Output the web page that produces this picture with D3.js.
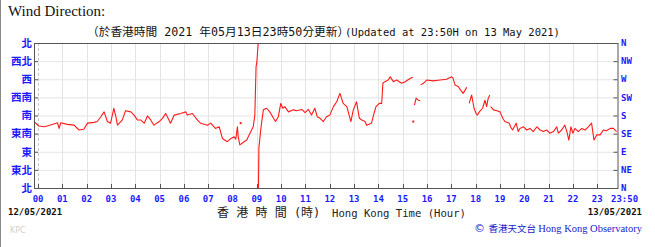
<!DOCTYPE html>
<html>
<head>
<meta charset="utf-8">
<script src="https://cdn.jsdelivr.net/npm/d3@7"></script>
<style>
  body { margin: 0; background: #fff; }
  svg { display: block; }
</style>
</head>
<body>
<svg id="chart"></svg>
<script>
const width = 655;
const height = 247;

// minutes after 00:00 on 13/05/2021 (null = gap in the record)
const times = [-10, 2, 15, 27, 39, 48, 52, 56, 72, 89, 101, 113, 122, 138, 146, 155, 163, 171, 179, 187,
  192, 196, 208, 216, 229, 237, 245, 253, 262, 270, 278, 286, 299, 307, 315, 327, 336, 352, 365, 368,
  381, 393, 401, 418, 426, 438, 447, 455, 467, 476, 484, 488, 492, 494, 498, 506, 515, 523, 531, 535,
  538, 540, 543, 544, 545, 550, 556, 564, 572, 581, 586, 593, 599, 604, 609, 618, 630, 638, 651, 659,
  667, 675, 683, 689, 696, 704, 712, 720, 729, 737, 745, 753, 762, 772, 778, 786, 793, 799, 807, 811,
  823, 829, 834, 842, 848, 851, 856, 864, 869, 877, 885, 897, 906, 918, 925, 926,
  929, 933, 938, 943, 943.5,
  944, 951, 959, 975, 992, 1008, 1021, 1024, 1029, 1037, 1043, 1049, 1054, 1058, 1061,
  1064, 1070, 1076, 1081, 1084, 1089, 1097, 1103, 1107, 1111, 1115, 1116,
  1117, 1124, 1133, 1140, 1147, 1152, 1163, 1166, 1171, 1180, 1185, 1189, 1198, 1206, 1214, 1222,
  1231, 1239, 1247, 1255, 1263, 1272, 1280, 1284, 1292, 1300, 1305, 1310, 1315, 1320, 1325, 1333,
  1342, 1350, 1358, 1366, 1372, 1379, 1387, 1395, 1403, 1412, 1420, 1428];

// wind direction in degrees
const dirs = [165, 154, 152, 155, 159, 162, 148, 162, 158, 156, 144, 146, 161, 163, 165, 177, 189, 165, 161, 198,
  177, 156, 169, 192, 189, 181, 169, 169, 161, 179, 169, 156, 165, 173, 185, 161, 181, 185, 189, 181,
  185, 169, 161, 156, 161, 148, 152, 123, 115, 123, 127, 121, 152, 127, 107, 113, 119, 136, 152, 181,
  301, 313, 355, 5, 99, 149, 194, 198, 189, 173, 165, 177, 210, 198, 202, 189, 194, 192, 195, 187,
  195, 181, 198, 177, 173, 165, 177, 181, 202, 214, 235, 210, 202, 165, 194, 214, 173, 169, 165, 156,
  161, 185, 202, 210, 210, 260, 264, 268, 276, 264, 268, 260, 264, 272, 275, null,
  206, 223, 218, 217, null,
  256, 260, 268, 266, 268, 270, 276, 273, 256, 252, 243, 235, 243, 250, null,
  210, 231, 198, 185, 181, 189, 198, 218, 202, 223, 231, null,
  202, 194, 192, 189, 173, 165, 161, 152, 144, 161, 140, 148, 152, 144, 148, 140,
  152, 144, 140, 144, 136, 140, 152, 136, 144, 156, 140, 119, 152, 136, 148, 140,
  148, 144, 152, 161, 119, 132, 132, 144, 142, 148, 148, 140];

// single isolated readings
const spotTimes = [500, 926];
const spotDirs = [161, 165];

const hours = d3.range(0, 24);
const dirLabelsZh = ["北", "東北", "東", "東南", "南", "西南", "西", "西北", "北"];
const dirLabelsEn = ["N", "NE", "E", "SE", "S", "SW", "W", "NW", "N"];

const svg = d3.select("#chart")
    .attr("width", width)
    .attr("height", height);

const x = d3.scaleLinear().domain([-10, 1430]).range([34, 617.5]);
const y = d3.scaleLinear().domain([0, 360]).range([188, 43]);

const blue = "#1a1aff";
const monoCjk = "DejaVu Sans Mono, Noto Sans CJK TC, monospace";

// frame line at the left edge of the image
svg.append("line")
    .attr("x1", 0.5).attr("x2", 0.5).attr("y1", 0).attr("y2", height)
    .attr("stroke", "#888");

svg.append("text")
    .attr("x", 8).attr("y", 16)
    .attr("font-family", "Liberation Serif, serif")
    .attr("font-size", 15)
    .attr("fill", "#111")
    .text("Wind Direction:");

const subtitle = svg.append("text")
    .attr("y", 36)
    .attr("fill", "#111");
subtitle.append("tspan")
    .attr("x", 87)
    .attr("font-family", monoCjk)
    .attr("font-size", 11.7)
    .text("（於香港時間 2021 年05月13日23時50分更新）");
subtitle.append("tspan")
    .attr("x", 345)
    .attr("font-family", "DejaVu Sans Mono, monospace")
    .attr("font-size", 10.5)
    .text("(Updated at 23:50H on 13 May 2021)");

// grid
const grid = svg.append("g");
grid.selectAll(".hg")
    .data(d3.range(45, 360, 45))
  .enter().append("line")
    .attr("x1", x(-10)).attr("x2", x(1430))
    .attr("y1", d => y(d) + 0.5).attr("y2", d => y(d) + 0.5)
    .attr("stroke", "#e4e4e4");

grid.selectAll(".vg")
    .data(hours)
  .enter().append("line")
    .attr("x1", d => Math.round(x(d * 60)) + 0.5).attr("x2", d => Math.round(x(d * 60)) + 0.5)
    .attr("y1", y(360)).attr("y2", y(0))
    .attr("stroke", d => d === 0 ? "#c8c8c8" : "#e4e4e4")
    .attr("stroke-dasharray", d => d === 0 ? "3,2" : null);

// ticks
const ticks = svg.append("g").attr("stroke", "#555");
ticks.selectAll(".lt")
    .data(d3.range(0, 361, 45))
  .enter().append("line")
    .attr("x1", x(-10)).attr("x2", x(-10) + 4)
    .attr("y1", d => y(d) + 0.5).attr("y2", d => y(d) + 0.5);
ticks.selectAll(".rt")
    .data(d3.range(0, 361, 45))
  .enter().append("line")
    .attr("x1", x(1430) - 4).attr("x2", x(1430))
    .attr("y1", d => y(d) + 0.5).attr("y2", d => y(d) + 0.5);
ticks.selectAll(".bt")
    .data(hours)
  .enter().append("line")
    .attr("x1", d => Math.round(x(d * 60)) + 0.5).attr("x2", d => Math.round(x(d * 60)) + 0.5)
    .attr("y1", y(0)).attr("y2", y(0) - 4);

// split the record into drawable pieces, breaking at gaps and at the N wrap
const segments = [];
let seg = [];
times.forEach((t, i) => {
    const d = dirs[i];
    if (d === null) {
        if (seg.length) segments.push(seg);
        seg = [];
        return;
    }
    if (seg.length) {
        const [t0, d0] = seg[seg.length - 1];
        if (Math.abs(d - d0) > 180) {
            const up = d < d0;
            const d1 = up ? d + 360 : d - 360;
            const edge = up ? 360 : 0;
            const tc = t0 + (edge - d0) / (d1 - d0) * (t - t0);
            seg.push([tc, edge]);
            segments.push(seg);
            seg = [[tc, up ? 0 : 360]];
        }
    }
    seg.push([t, d]);
});
if (seg.length) segments.push(seg);

const line = d3.line()
    .x(d => x(d[0]))
    .y(d => y(d[1]));

svg.append("g")
    .selectAll("path")
    .data(segments)
  .enter().append("path")
    .attr("d", line)
    .attr("fill", "none")
    .attr("stroke", "#ff1a1a")
    .attr("stroke-width", 1.1)
    .attr("stroke-linejoin", "round");

svg.append("g")
    .selectAll("rect")
    .data(spotTimes)
  .enter().append("rect")
    .attr("x", d => x(d) - 1)
    .attr("y", (d, i) => y(spotDirs[i]) - 1)
    .attr("width", 2).attr("height", 2)
    .attr("fill", "#ff1a1a");

// frame
svg.append("rect")
    .attr("x", x(-10) + 0.5).attr("y", y(360) + 0.5)
    .attr("width", x(1430) - x(-10)).attr("height", y(0) - y(360))
    .attr("fill", "none")
    .attr("stroke", "#555");

// direction labels
svg.append("g")
    .selectAll("text")
    .data(dirLabelsZh)
  .enter().append("text")
    .attr("x", 32)
    .attr("y", (d, i) => y(i * 45))
    .attr("dy", "0.36em")
    .attr("text-anchor", "end")
    .attr("font-family", "Noto Sans CJK TC, sans-serif")
    .attr("font-size", 10.5)
    .attr("font-weight", "bold")
    .attr("fill", blue)
    .text(d => d);

svg.append("g")
    .selectAll("text")
    .data(dirLabelsEn)
  .enter().append("text")
    .attr("x", 621)
    .attr("y", (d, i) => y(i * 45))
    .attr("dy", "0.36em")
    .attr("font-family", "DejaVu Sans Mono, monospace")
    .attr("font-size", 9)
    .attr("font-weight", "bold")
    .attr("fill", blue)
    .text(d => d);

// hour labels
svg.append("g")
    .selectAll("text")
    .data(hours)
  .enter().append("text")
    .attr("x", d => x(d * 60))
    .attr("y", 202)
    .attr("text-anchor", "middle")
    .attr("font-family", "DejaVu Sans Mono, monospace")
    .attr("font-size", 9)
    .attr("font-weight", "bold")
    .attr("fill", blue)
    .text(d => d3.format("02")(d));

svg.append("text")
    .attr("x", 611).attr("y", 202)
    .attr("font-family", "DejaVu Sans Mono, monospace")
    .attr("font-size", 9)
    .attr("font-weight", "bold")
    .attr("fill", blue)
    .text("23:50");

svg.append("text")
    .attr("x", 8).attr("y", 215)
    .attr("font-family", "DejaVu Sans Mono, monospace")
    .attr("font-size", 9)
    .attr("font-weight", "bold")
    .attr("fill", "#111")
    .text("12/05/2021");

svg.append("text")
    .attr("x", 642).attr("y", 215)
    .attr("text-anchor", "end")
    .attr("font-family", "DejaVu Sans Mono, monospace")
    .attr("font-size", 9)
    .attr("font-weight", "bold")
    .attr("fill", "#111")
    .text("13/05/2021");

const xTitle = svg.append("text")
    .attr("x", 217).attr("y", 217)
    .attr("fill", "#222");
xTitle.append("tspan")
    .attr("font-family", monoCjk)
    .attr("font-size", 12)
    .text("香 港 時 間 (時)");
xTitle.append("tspan")
    .attr("x", 332)
    .attr("font-family", "DejaVu Sans Mono, monospace")
    .attr("font-size", 10.6)
    .text("Hong Kong Time (Hour)");

svg.append("text")
    .attr("x", 10).attr("y", 233)
    .attr("font-family", "DejaVu Sans, sans-serif")
    .attr("font-size", 8)
    .attr("fill", "#d0d0d0")
    .text("KPC");

const credit = svg.append("text")
    .attr("x", 642).attr("y", 232)
    .attr("text-anchor", "end")
    .attr("fill", "#2222cc");
credit.append("tspan")
    .attr("font-family", "DejaVu Sans, sans-serif")
    .attr("font-size", 11)
    .text("© ");
credit.append("tspan")
    .attr("font-family", "Noto Sans CJK TC, sans-serif")
    .attr("font-size", 9.5)
    .text("香港天文台 ");
credit.append("tspan")
    .attr("font-family", "Liberation Serif, serif")
    .attr("font-size", 10.5)
    .text("Hong Kong Observatory");
</script>
</body>
</html>
